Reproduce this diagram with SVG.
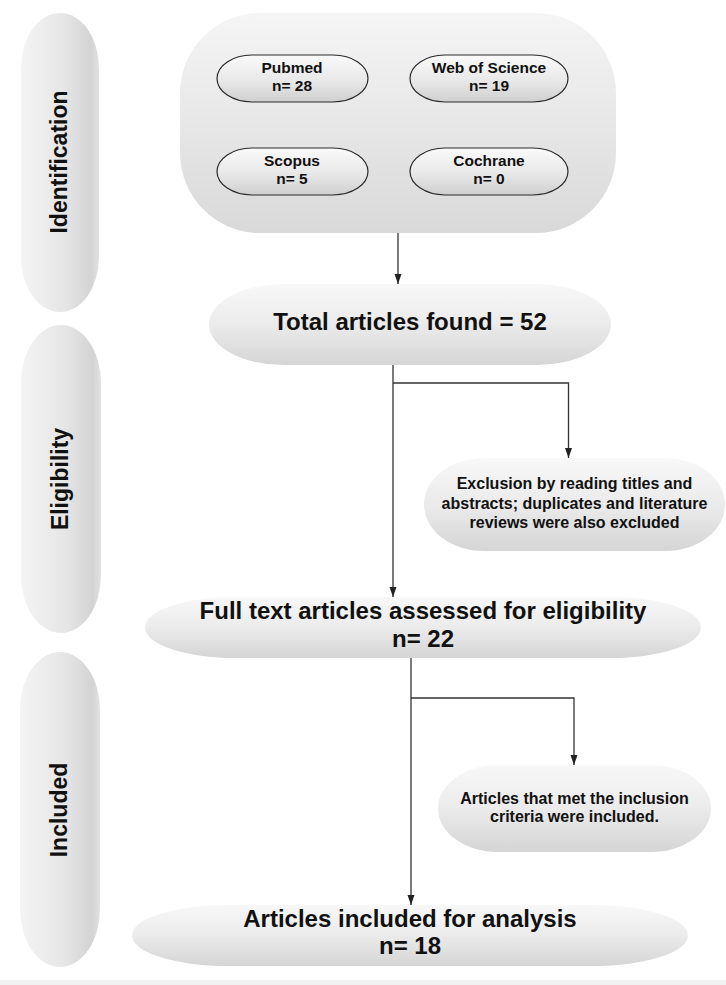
<svg xmlns="http://www.w3.org/2000/svg" width="726" height="985" viewBox="0 0 726 985">
<defs>
<linearGradient id="gv" x1="0" y1="0" x2="0" y2="1">
<stop offset="0" stop-color="#f8f8f8"/>
<stop offset="0.5" stop-color="#ebebeb"/>
<stop offset="1" stop-color="#d5d5d5"/>
</linearGradient>
<linearGradient id="gdb" x1="0" y1="0" x2="0" y2="1">
<stop offset="0" stop-color="#fafafa"/>
<stop offset="0.55" stop-color="#e8e8e8"/>
<stop offset="1" stop-color="#cfcfcf"/>
</linearGradient>
<linearGradient id="gc" x1="0" y1="0" x2="0" y2="1">
<stop offset="0" stop-color="#f5f5f5"/>
<stop offset="1" stop-color="#d9d9d9"/>
</linearGradient>
<linearGradient id="gh" x1="0" y1="0" x2="1" y2="0">
<stop offset="0" stop-color="#f4f4f4"/>
<stop offset="0.55" stop-color="#e6e6e6"/>
<stop offset="0.9" stop-color="#d3d3d3"/>
<stop offset="1" stop-color="#e2e2e2"/>
</linearGradient>
<marker id="arr" markerUnits="userSpaceOnUse" markerWidth="10" markerHeight="8" refX="10" refY="4" orient="auto">
<path d="M0,0.5 L10,4 L0,7.5 z" fill="#222"/>
</marker>
<style>
.pill{fill:url(#gv)}
.db{fill:url(#gdb);stroke:#2a2a2a;stroke-width:1.2}
.phase{fill:url(#gh)}
text{font-family:"Liberation Sans",Arial,sans-serif;font-weight:bold;fill:#111;text-anchor:middle}
.s{font-size:15.5px}
.m{font-size:16px}
.l{font-size:24px}
.ph{font-size:23px}
.con{fill:none;stroke:#333;stroke-width:1.3}
</style>
</defs>
<rect x="0" y="980" width="726" height="5" fill="#f1f1f1"/>

<g id="phase-identification">
<rect class="phase" x="21" y="13" width="78" height="299" rx="39" ry="55"/>
<text class="ph" transform="translate(67,162) rotate(-90)">Identification</text>
</g>
<g id="phase-eligibility">
<rect class="phase" x="21" y="325" width="80" height="308" rx="40" ry="58"/>
<text class="ph" transform="translate(68,479) rotate(-90)">Eligibility</text>
</g>
<g id="phase-included">
<rect class="phase" x="20" y="652" width="80" height="315" rx="40" ry="58"/>
<text class="ph" transform="translate(67,810) rotate(-90)">Included</text>
</g>

<g id="sources">
<rect x="180" y="13" width="436" height="220" rx="80" ry="80" fill="url(#gc)"/>
</g>
<g id="pubmed">
<rect class="db" x="217" y="55" width="151" height="47" rx="35" ry="23.5"/>
<text class="s" x="292" y="73">Pubmed</text>
<text class="s" x="292" y="91">n= 28</text>
</g>
<g id="wos">
<rect class="db" x="410" y="55" width="158" height="47" rx="35" ry="23.5"/>
<text class="s" x="489" y="73">Web of Science</text>
<text class="s" x="489" y="91">n= 19</text>
</g>
<g id="scopus">
<rect class="db" x="217" y="148" width="151" height="47" rx="35" ry="23.5"/>
<text class="s" x="292" y="166">Scopus</text>
<text class="s" x="292" y="184">n= 5</text>
</g>
<g id="cochrane">
<rect class="db" x="410" y="148" width="158" height="47" rx="35" ry="23.5"/>
<text class="s" x="489" y="166">Cochrane</text>
<text class="s" x="489" y="184">n= 0</text>
</g>

<g id="total">
<rect class="pill" x="209" y="284" width="402" height="81" rx="75" ry="40.5"/>
<text class="l" x="410" y="330">Total articles found = 52</text>
</g>
<g id="exclusion">
<rect class="pill" x="424" y="458" width="301" height="93" rx="60" ry="46"/>
<text class="m" x="574.5" y="489">Exclusion by reading titles and</text>
<text class="m" x="574.5" y="508.5">abstracts; duplicates and literature</text>
<text class="m" x="574.5" y="528">reviews were also excluded</text>
</g>
<g id="fulltext">
<rect class="pill" x="145" y="597" width="556" height="61" rx="90" ry="30.5"/>
<text class="l" x="423" y="619">Full text articles assessed for eligibility</text>
<text class="l" x="423" y="647">n= 22</text>
</g>
<g id="inclusion">
<rect class="pill" x="438" y="765" width="273" height="87" rx="60" ry="43.5"/>
<text class="m" x="574.5" y="804">Articles that met the inclusion</text>
<text class="m" x="574.5" y="822">criteria were included.</text>
</g>
<g id="final">
<rect class="pill" x="132" y="905" width="556" height="61" rx="95" ry="30.5"/>
<text class="l" x="410" y="927">Articles included for analysis</text>
<text class="l" x="410" y="954">n= 18</text>
</g>

<g id="connectors">
<path class="con" d="M398,233 V284" marker-end="url(#arr)"/>
<path class="con" d="M393,365 V597" marker-end="url(#arr)"/>
<path class="con" d="M393,383 H568.5 V458" marker-end="url(#arr)"/>
<path class="con" d="M411,658 V905" marker-end="url(#arr)"/>
<path class="con" d="M411,698 H574 V765" marker-end="url(#arr)"/>
</g>
</svg>
